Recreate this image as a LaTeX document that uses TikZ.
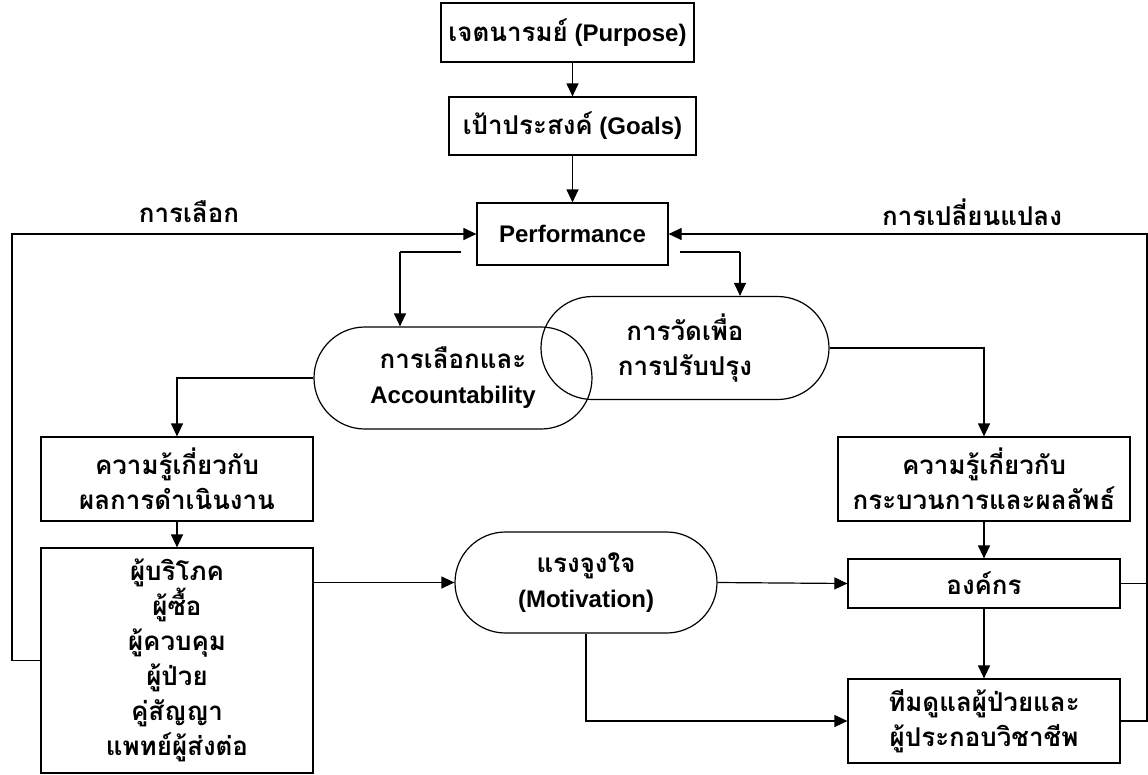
\documentclass[tikz,border=0pt]{standalone}
\usepackage{fontspec}
\setmainfont{Liberation Sans}
\newfontfamily\thai[Script=Thai,Scale=1.08]{Loma}
\usetikzlibrary{arrows.meta,shapes.misc}
\begin{document}
\begin{tikzpicture}[x=1pt,y=-1pt,
  every node/.style={font=\fontsize{24}{35}\selectfont\bfseries, align=center, inner sep=0pt},
  box/.style={draw, line width=1.2pt, rectangle},
  pill/.style={draw, line width=1.2pt, rounded rectangle},
  link/.style={line width=1.2pt},
  arr/.style={link, -{Triangle[length=13pt,width=12pt]}}]
\useasboundingbox (0,0) rectangle (1148,774);

% chain at the top
\node[box, minimum width=253pt, minimum height=59pt] (purpose) at (567.5,32.5) {{\thai เจตนารมย์} (Purpose)};
\node[box, minimum width=247pt, minimum height=58pt] (goals) at (572.5,126) {{\thai เป้าประสงค์} (Goals)};
\node[box, minimum width=191pt, minimum height=62pt] (perf) at (572.5,234) {Performance};

% the two overlapping uses of measurement
\node[pill, minimum width=278pt, minimum height=102pt] (acc) at (453,378) {{\thai การเลือกและ}\\Accountability};
\node[pill, minimum width=288pt, minimum height=103pt] (meas) at (685,348) {\thai การวัดเพื่อ\\\thai การปรับปรุง};

% left column
\node[box, minimum width=272pt, minimum height=84pt] (know1) at (177,479) {\thai ความรู้เกี่ยวกับ\\\thai ผลการดำเนินงาน};
\node[box, minimum width=272pt, minimum height=225pt] (cons) at (177,660.5) {\thai ผู้บริโภค\\\thai ผู้ซื้อ\\\thai ผู้ควบคุม\\\thai ผู้ป่วย\\\thai คู่สัญญา\\\thai แพทย์ผู้ส่งต่อ};

% motivation
\node[pill, minimum width=262pt, minimum height=101pt] (motiv) at (586,582.5) {{\thai แรงจูงใจ}\\(Motivation)};

% right column
\node[box, minimum width=292pt, minimum height=84pt] (know2) at (984,479) {\thai ความรู้เกี่ยวกับ\\\thai กระบวนการและผลลัพธ์};
\node[box, minimum width=272pt, minimum height=49pt] (org) at (984,583.5) {\thai องค์กร};
\node[box, minimum width=272pt, minimum height=84pt] (team) at (984,721) {\thai ทีมดูแลผู้ป่วยและ\\\thai ผู้ประกอบวิชาชีพ};

% loop labels
\node (labsel) at (189,212) {\thai การเลือก};
\node (labchg) at (972,212) {\thai การเปลี่ยนแปลง};

% helper points
\coordinate (pl) at (461,252);
\coordinate (plc) at (400,252);
\coordinate (pr) at (680,252);
\coordinate (prc) at (740,252);
\coordinate (lx) at (12,0);
\coordinate (rx) at (1147,0);

% connectors
\draw[arr] (purpose.south -| perf.north) -- (goals.north -| perf.north);
\draw[arr] (goals.south -| perf.north) -- (perf.north);
\draw[link] (pl) -- (plc);
\draw[arr] (plc) -- (plc |- acc.north);
\draw[link] (pr) -- (prc);
\draw[arr] (prc) -- (prc |- meas.north);
\draw[arr] (acc.west) -| (know1.north);
\draw[arr] (meas.east) -| (know2.north);
\draw[arr] (know1.south) -- (cons.north);
\draw[arr] (cons.east |- motiv.west) -- (motiv.west);
\draw[arr] (motiv.east) -- (org.west);
\draw[arr] (motiv.south) |- (team.west);
\draw[arr] (know2.south) -- (org.north);
\draw[arr] (org.south) -- (team.north);
\draw[arr] (cons.west) -- (cons.west -| lx) |- (perf.west);
\draw[link] (org.east) -- (org.east -| rx);
\draw[arr] (team.east) -- (team.east -| rx) |- (perf.east);
\end{tikzpicture}
\end{document}
